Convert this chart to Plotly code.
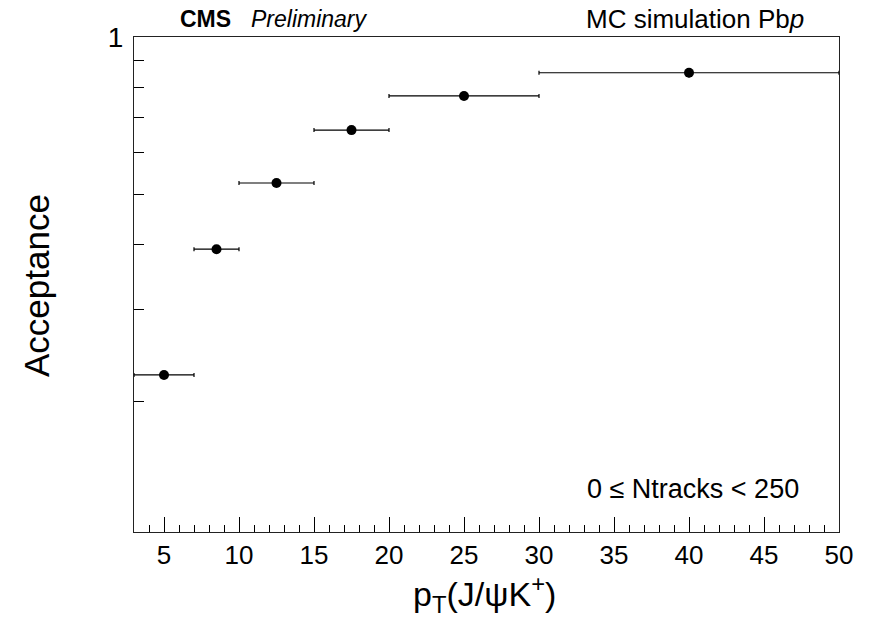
import numpy as np
import plotly.graph_objects as go

# Data
pt_center = [5.0, 8.5, 12.5, 17.5, 25.0, 40.0]
pt_halfwidth = [2.0, 1.5, 2.5, 2.5, 5.0, 10.0]
acceptance = [0.225, 0.392, 0.525, 0.663, 0.771, 0.854]
acc_err = [0.004, 0.004, 0.004, 0.005, 0.006, 0.018]

x_ticks = [5, 10, 15, 20, 25, 30, 35, 40, 45, 50]
y_ticks = [0.2, 0.3, 0.4, 0.5, 0.6, 0.7, 0.8, 0.9, 1.0]
y_ticktext = ["", "", "", "", "", "", "", "", "1"]

W, H = 870, 620
L, R, T, B = 134, 31, 37, 88
pw, ph = W - L - R, H - T - B

def px(x):
    return (x - L) / pw

def py(y):
    return (H - B - y) / ph

FONT = "Liberation Sans, Arial, sans-serif"

fig = go.Figure()
fig.add_trace(go.Scatter(
    x=pt_center, y=acceptance, mode="markers",
    marker=dict(color="black", size=10, symbol="circle"),
    error_x=dict(type="data", array=pt_halfwidth, color="black", thickness=1.2, width=2),
    error_y=dict(type="data", array=acc_err, color="black", thickness=1.2, width=0),
    showlegend=False,
))

ymin = 0.5 * min(acceptance)

fig.update_layout(
    width=W, height=H,
    margin=dict(l=L, r=R, t=T, b=B),
    paper_bgcolor="white", plot_bgcolor="white",
    font=dict(family=FONT, color="black"),
    xaxis=dict(
        range=[3, 50], tickvals=x_ticks, ticks="inside", ticklen=15, tickwidth=1,
        tickcolor="black", showline=True, linecolor="#222", linewidth=1.3, mirror=True,
        showgrid=False, zeroline=False, tickfont=dict(size=26, family=FONT),
        ticklabelstandoff=0,
        minor=dict(ticks="inside", ticklen=7, dtick=1, tick0=0, tickcolor="black", showgrid=False),
    ),
    yaxis=dict(
        type="log", range=[np.log10(ymin), 0], tickvals=y_ticks, ticktext=y_ticktext,
        ticks="inside", ticklen=10, tickwidth=1, tickcolor="black",
        showline=True, linecolor="#222", linewidth=1.3, mirror=True,
        showgrid=False, zeroline=False, tickfont=dict(size=28, family=FONT),
        ticklabelstandoff=4,
    ),
    annotations=[
        dict(text="p<sub>T</sub>(J/ψK<sup>+</sup>)", x=px(484), y=py(594), xref="paper", yref="paper",
             showarrow=False, font=dict(size=34), xanchor="center", yanchor="middle"),
        dict(text="Acceptance", x=px(36), y=py(286), xref="paper", yref="paper",
             showarrow=False, font=dict(size=35), textangle=-90, xanchor="center", yanchor="middle"),
        dict(text="<b>CMS</b>", x=px(178), y=py(19), xref="paper", yref="paper",
             showarrow=False, font=dict(size=23), xanchor="left", yanchor="middle"),
        dict(text="<i>Preliminary</i>", x=px(249), y=py(19), xref="paper", yref="paper",
             showarrow=False, font=dict(size=23), xanchor="left", yanchor="middle"),
        dict(text="MC simulation Pb<i>p</i>", x=px(806), y=py(19), xref="paper", yref="paper",
             showarrow=False, font=dict(size=26), xanchor="right", yanchor="middle"),
        dict(text="0 ≤ Ntracks < 250", x=px(801), y=py(489), xref="paper", yref="paper",
             showarrow=False, font=dict(size=27), xanchor="right", yanchor="middle"),
    ],
)

fig.write_html("out.html")
